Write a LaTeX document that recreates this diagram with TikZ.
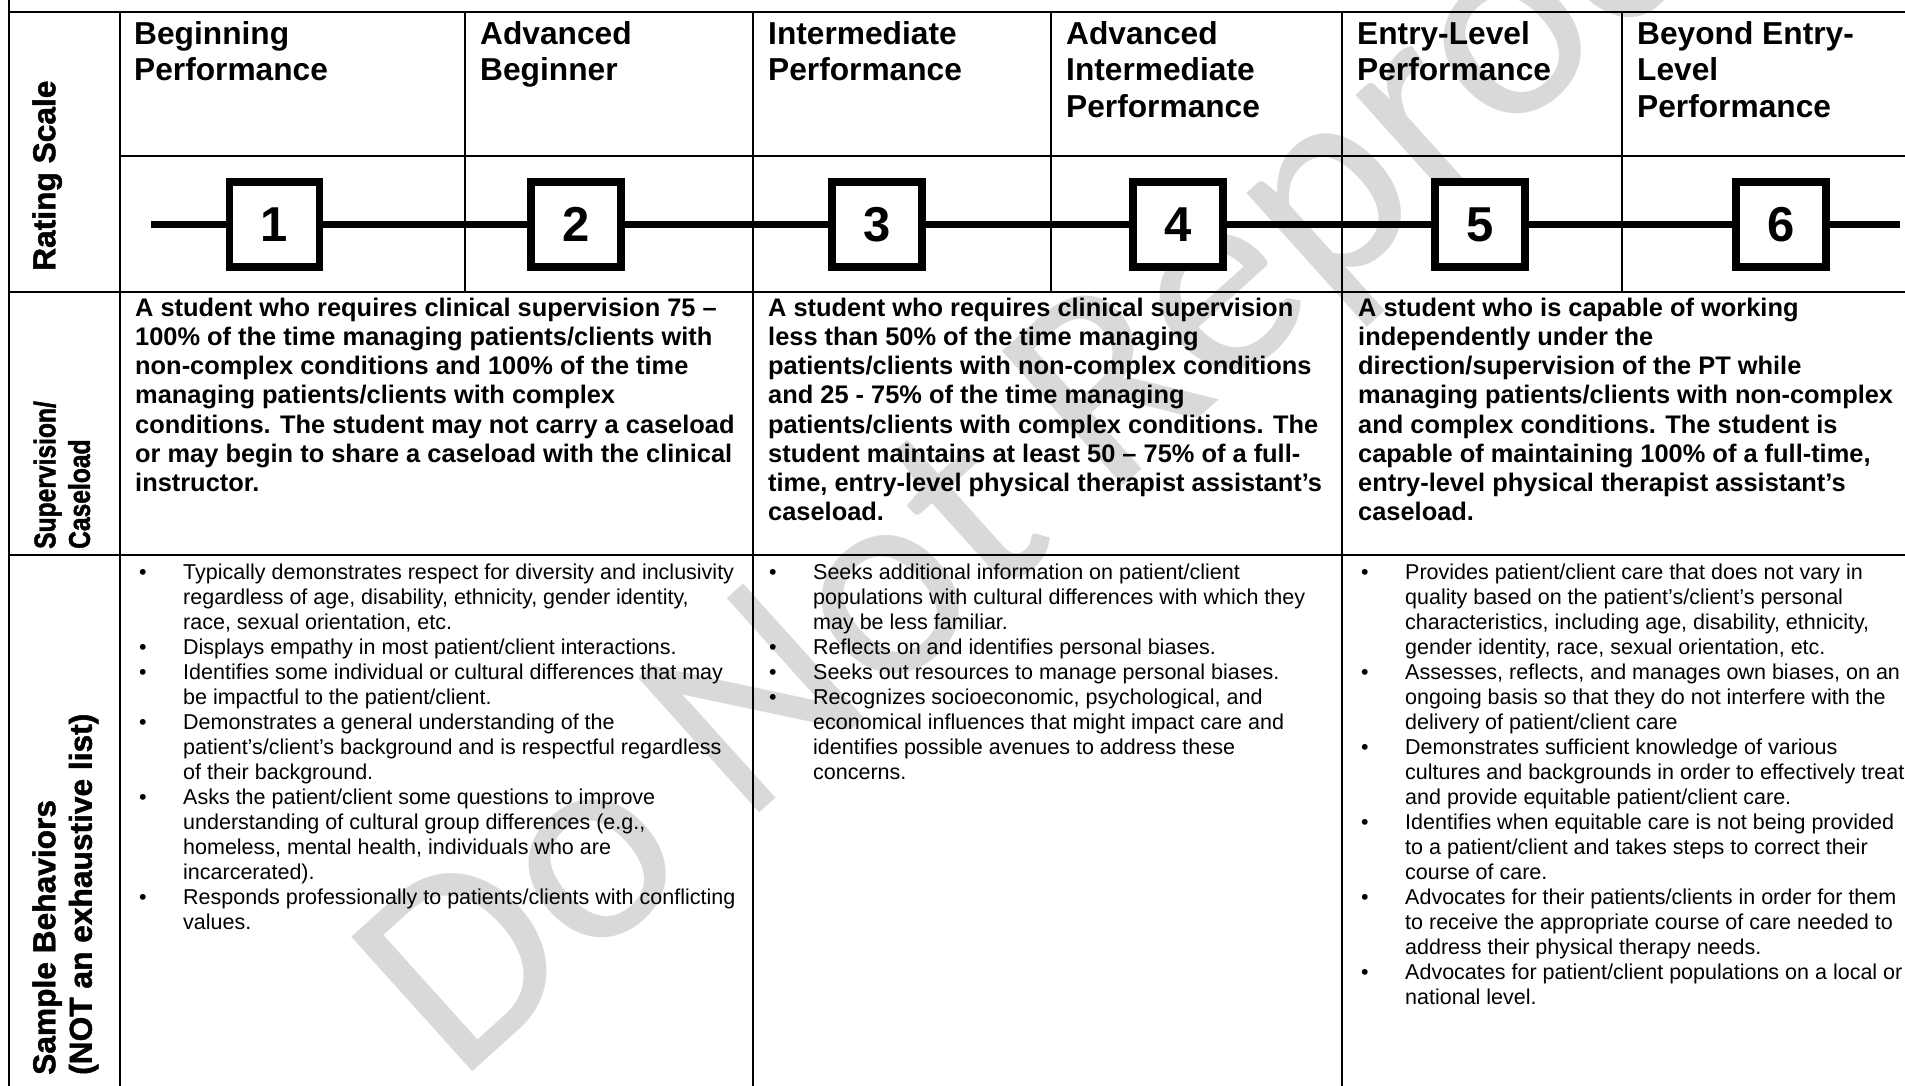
\documentclass[tikz,border=0pt]{standalone}
\usepackage{fontspec}
\setmainfont{Liberation Sans}
\newfontfamily\wmfont{Carlito}
\newfontfamily\rotfam{Liberation Sans}[BoldFeatures={FakeBold=1.5}]
\newfontfamily\rotnarrow{Liberation Sans}[FakeStretch=0.82, BoldFeatures={FakeBold=1.5, FakeStretch=0.82}]
\newcommand{\hdrfont}{\fontsize{31.7}{36.5}\selectfont\bfseries}
\newcommand{\supfont}{\fontsize{25.4}{29.2}\selectfont\bfseries}
\newcommand{\bulfont}{\fontsize{21.5}{25}\selectfont}
\newcommand{\numfont}{\fontsize{49}{58}\selectfont\bfseries}
\newcommand{\rotlabfont}{\rotfam\fontsize{31.7}{36.5}\selectfont\bfseries}
\newcommand{\rotsvfont}{\rotnarrow\fontsize{30}{34.5}\selectfont\bfseries}
\newcommand{\mybul}{\makebox[47pt][l]{\hspace*{3pt}\textbullet}}
\newcommand{\myind}{\hspace*{47pt}}
\begin{document}
\begin{tikzpicture}[x=1pt,y=-1pt,
  tbl/.style={line width=2.2pt, line cap=rect},
  conn/.style={line width=7.5pt},
  scalebox/.style={draw, line width=7.5pt, fill=white, minimum width=90pt, minimum height=85pt, inner sep=0pt, font=\numfont},
  hdr/.style={anchor=north west, inner sep=0pt, font=\hdrfont},
  sup/.style={anchor=north west, inner sep=0pt, font=\supfont},
  bul/.style={anchor=north west, inner sep=0pt, font=\bulfont},
  lab/.style={anchor=north west, inner sep=0pt, rotate=90, font=\rotlabfont},
  svlab/.style={anchor=north west, inner sep=0pt, rotate=90, font=\rotsvfont},
  wm/.style={anchor=base west, inner sep=0pt, rotate=42, text=black!15, font=\wmfont\fontsize{282}{300}\selectfont}
]
\useasboundingbox (0,0) rectangle (1905,1085);
\fill[white] (0,0) rectangle (1905,1085);
\clip (0,0) rectangle (1905,1085);

% watermark
\node[wm] (wm) at (458,1085) {Do Not Reproduce};

% grid
\draw[tbl] (9,0) -- (9,1085);
\draw[tbl] (9,12) -- (1905,12);
\draw[tbl] (120,12) -- (120,1085);
\draw[tbl] (120,156) -- (1905,156);
\draw[tbl] (9,292) -- (1905,292);
\draw[tbl] (9,555) -- (1905,555);
\draw[tbl] (753,12) -- (753,1085);
\draw[tbl] (1342,12) -- (1342,1085);
\draw[tbl] (465,12) -- (465,292);
\draw[tbl] (1051,12) -- (1051,292);
\draw[tbl] (1622,12) -- (1622,292);

% headers
\node[hdr] (h1) at (134,18.5) {\begin{tabular}{@{}l@{}}Beginning\\Performance\end{tabular}};
\node[hdr] (h2) at (480,18.5) {\begin{tabular}{@{}l@{}}Advanced\\Beginner\end{tabular}};
\node[hdr] (h3) at (768,18.5) {\begin{tabular}{@{}l@{}}Intermediate\\Performance\end{tabular}};
\node[hdr] (h4) at (1066,18.5) {\begin{tabular}{@{}l@{}}Advanced\\Intermediate\\Performance\end{tabular}};
\node[hdr] (h5) at (1357,18.5) {\begin{tabular}{@{}l@{}}Entry-Level\\Performance\end{tabular}};
\node[hdr] (h6) at (1637,18.5) {\begin{tabular}{@{}l@{}}Beyond Entry-\\Level\\Performance\end{tabular}};

% rating scale
\coordinate (cl) at (151,224.5);
\coordinate (cr) at (1900,224.5);
\node[scalebox] (n1) at (274.5,224.5) {1};
\node[scalebox] (n2) at (576,224.5) {2};
\node[scalebox] (n3) at (877,224.5) {3};
\node[scalebox] (n4) at (1178,224.5) {4};
\node[scalebox] (n5) at (1480,224.5) {5};
\node[scalebox] (n6) at (1781,224.5) {6};
\draw[conn] (cl) -- (n1);
\draw[conn] (n1) -- (n2);
\draw[conn] (n2) -- (n3);
\draw[conn] (n3) -- (n4);
\draw[conn] (n4) -- (n5);
\draw[conn] (n5) -- (n6);
\draw[conn] (n6) -- (cr);

% labels
\node[lab] (l1) at (29.5,271) {\begin{tabular}{@{}l@{}}Rating Scale\end{tabular}};
\node[svlab] (l2) at (31,549) {\begin{tabular}{@{}l@{}}Supervision/\\Caseload\end{tabular}};
\node[lab] (l3) at (29.5,1075) {\begin{tabular}{@{}l@{}}Sample Behaviors\\(NOT an exhaustive list)\end{tabular}};

% supervision
\node[sup] (s1) at (135,295.6) {\begin{tabular}{@{}l@{}}
A student who requires clinical supervision 75 –\\
100\% of the time managing patients/clients with\\
non-complex conditions and 100\% of the time\\
managing patients/clients with complex\\
conditions. The student may not carry a caseload\\
or may begin to share a caseload with the clinical\\
instructor.\end{tabular}};
\node[sup] (s2) at (768,295.6) {\begin{tabular}{@{}l@{}}
A student who requires clinical supervision\\
less than 50\% of the time managing\\
patients/clients with non-complex conditions\\
and 25 - 75\% of the time managing\\
patients/clients with complex conditions. The\\
student maintains at least 50 – 75\% of a full-\\
time, entry-level physical therapist assistant’s\\
caseload.\end{tabular}};
\node[sup] (s3) at (1358,295.6) {\begin{tabular}{@{}l@{}}
A student who is capable of working\\
independently under the\\
direction/supervision of the PT while\\
managing patients/clients with non-complex\\
and complex conditions. The student is\\
capable of maintaining 100\% of a full-time,\\
entry-level physical therapist assistant’s\\
caseload.\end{tabular}};

% sample behaviours
\node[bul] (b1) at (136,561.5) {\begin{tabular}{@{}l@{}}
\mybul Typically demonstrates respect for diversity and inclusivity\\
\myind regardless of age, disability, ethnicity, gender identity,\\
\myind race, sexual orientation, etc.\\
\mybul Displays empathy in most patient/client interactions.\\
\mybul Identifies some individual or cultural differences that may\\
\myind be impactful to the patient/client.\\
\mybul Demonstrates a general understanding of the\\
\myind patient's/client’s background and is respectful regardless\\
\myind of their background.\\
\mybul Asks the patient/client some questions to improve\\
\myind understanding of cultural group differences (e.g.,\\
\myind homeless, mental health, individuals who are\\
\myind incarcerated).\\
\mybul Responds professionally to patients/clients with conflicting\\
\myind values.\end{tabular}};
\node[bul] (b2) at (766,561.5) {\begin{tabular}{@{}l@{}}
\mybul Seeks additional information on patient/client\\
\myind populations with cultural differences with which they\\
\myind may be less familiar.\\
\mybul Reflects on and identifies personal biases.\\
\mybul Seeks out resources to manage personal biases.\\
\mybul Recognizes socioeconomic, psychological, and\\
\myind economical influences that might impact care and\\
\myind identifies possible avenues to address these\\
\myind concerns.\end{tabular}};
\node[bul] (b3) at (1358,561.5) {\begin{tabular}{@{}l@{}}
\mybul Provides patient/client care that does not vary in\\
\myind quality based on the patient’s/client’s personal\\
\myind characteristics, including age, disability, ethnicity,\\
\myind gender identity, race, sexual orientation, etc.\\
\mybul Assesses, reflects, and manages own biases, on an\\
\myind ongoing basis so that they do not interfere with the\\
\myind delivery of patient/client care\\
\mybul Demonstrates sufficient knowledge of various\\
\myind cultures and backgrounds in order to effectively treat\\
\myind and provide equitable patient/client care.\\
\mybul Identifies when equitable care is not being provided\\
\myind to a patient/client and takes steps to correct their\\
\myind course of care.\\
\mybul Advocates for their patients/clients in order for them\\
\myind to receive the appropriate course of care needed to\\
\myind address their physical therapy needs.\\
\mybul Advocates for patient/client populations on a local or\\
\myind national level.\end{tabular}};
\end{tikzpicture}
\end{document}
